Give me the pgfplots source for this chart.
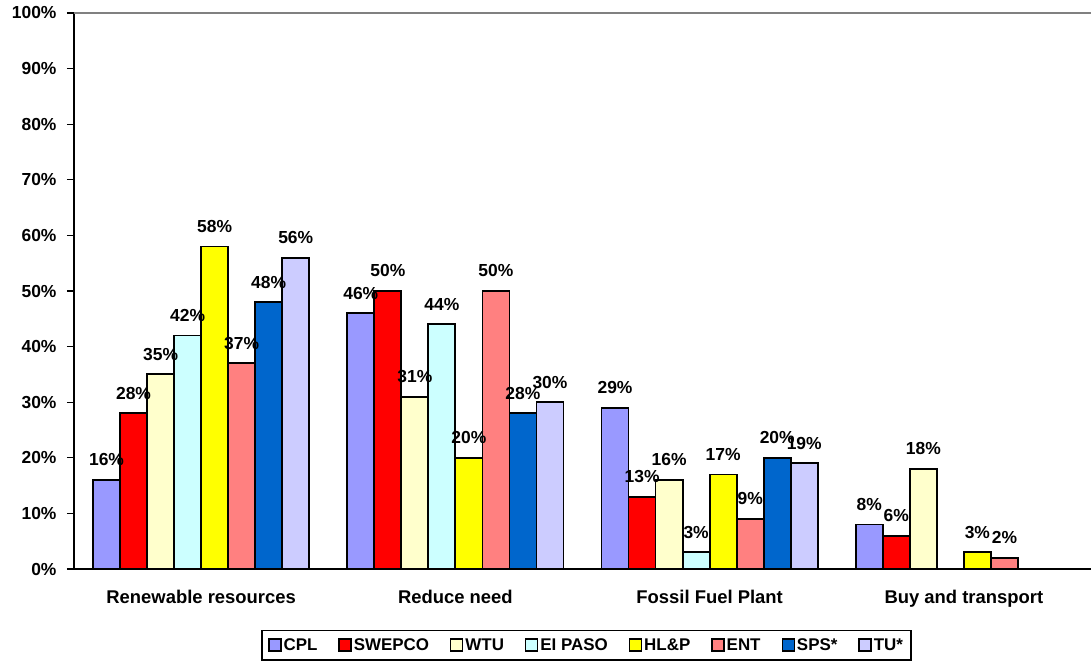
\documentclass[border=0pt]{standalone}
\usepackage{pgfplots}
\pgfplotsset{compat=1.18}
\usepackage{fontspec}
\setmainfont{Liberation Sans}

\definecolor{cpl}{HTML}{9999FF}
\definecolor{swepco}{HTML}{FF0000}
\definecolor{wtu}{HTML}{FFFFCC}
\definecolor{elpaso}{HTML}{CCFFFF}
\definecolor{hlp}{HTML}{FFFF00}
\definecolor{ent}{HTML}{FF8080}
\definecolor{sps}{HTML}{0066CC}
\definecolor{tu}{HTML}{CCCCFF}

\begin{document}
\begin{tikzpicture}
    \useasboundingbox (-74bp,-94bp) rectangle (1017bp,569bp);
    \begin{axis}[
        scale only axis,
        width=1017bp, height=556bp,
        ybar=0pt,
        bar width=0.1063,
        xmin=-0.5, xmax=3.5,
        ymin=0, ymax=100,
        axis x line=bottom, axis y line=left,
        axis line style={-, line width=1.6bp},
        xtick={0,1,2,3},
        xticklabels={Renewable resources, Reduce need, Fossil Fuel Plant, Buy and transport},
        x tick style={draw=none},
        extra x ticks={0.5,1.5,2.5},
        extra x tick labels={},
        extra x tick style={tick style={draw=black, line width=1.2bp}, major tick length=7bp, tick align=outside},
        ytick={0,10,...,100},
        yticklabel={\pgfmathprintnumber{\tick}\%},
        y tick style={line width=1.2bp, black},
        major tick length=7bp,
        tick align=outside,
        /pgf/number format/assume math mode=true,
        ticklabel style={font=\bfseries\fontsize{17.5}{19}\selectfont},
        yticklabel style={xshift=-7bp},
        xticklabel style={yshift=-11bp, font=\bfseries\fontsize{18.5}{20}\selectfont},
        every axis plot/.append style={draw=black, line width=1.8bp},
        nodes near coords={\pgfmathprintnumber{\pgfplotspointmeta}\%},
        nodes near coords style={font=\bfseries\fontsize{17.5}{19}\selectfont, anchor=south, inner sep=0pt, yshift=13bp},
        legend columns=-1,
        legend style={at={(0.504,-0.137)}, anchor=center, draw=black, line width=1.8bp,
            font=\bfseries\fontsize{17}{19}\selectfont, inner xsep=6bp, inner ysep=6bp,
            /tikz/every even column/.append style={column sep=19bp}},
        legend image code/.code={\draw[#1, line width=1.4bp] (0bp,-6bp) rectangle (12bp,6bp);},
    ]
    \addplot[fill=cpl] coordinates {(0,16) (1,46) (2,29) (3,8)};
    \addplot[fill=swepco] coordinates {(0,28) (1,50) (2,13) (3,6)};
    \addplot[fill=wtu] coordinates {(0,35) (1,31) (2,16) (3,18)};
    \addplot[fill=elpaso] coordinates {(0,42) (1,44) (2,3)};
    \addplot[fill=hlp] coordinates {(0,58) (1,20) (2,17) (3,3)};
    \addplot[fill=ent] coordinates {(0,37) (1,50) (2,9) (3,2)};
    \addplot[fill=sps] coordinates {(0,48) (1,28) (2,20)};
    \addplot[fill=tu] coordinates {(0,56) (1,30) (2,19)};
    \legend{CPL, SWEPCO, WTU, EI PASO, HL\&P, ENT, SPS*, TU*}
    \draw[gray, line width=1.2bp] (rel axis cs:0,1) -- (rel axis cs:1,1);
    \end{axis}
\end{tikzpicture}
\end{document}
